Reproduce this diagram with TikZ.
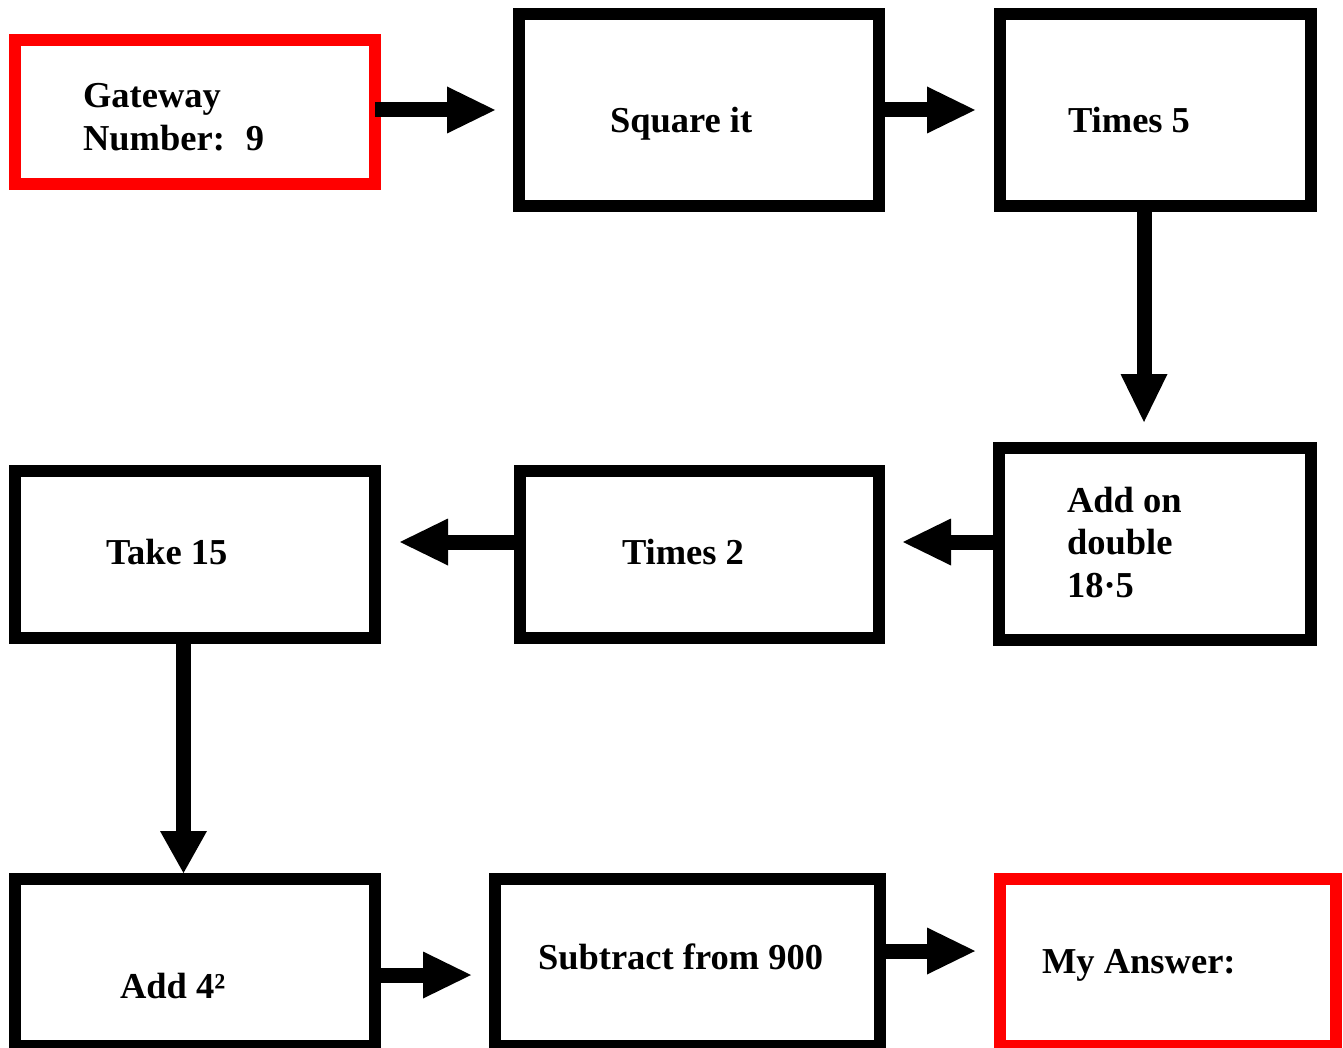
\documentclass[tikz,border=0pt]{standalone}
\usepackage{fontspec}
\setmainfont{Liberation Serif}
\usetikzlibrary{arrows.meta}
\definecolor{boxred}{RGB}{255,0,0}
\begin{document}
\begin{tikzpicture}[x=0.5pt,y=-0.5pt,
  box/.style={draw=black,line width=6pt,inner sep=0pt,outer sep=0pt,rectangle},
  redbox/.style={box,draw=boxred},
  lbl/.style={anchor=base west,inner sep=0pt,outer sep=0pt,font=\fontsize{18.25pt}{21.5pt}\selectfont\bfseries},
  arr/.style={line width=7.5pt,-{Triangle[length=24pt,width=23.5pt,line width=0pt]}},
  arrs/.style={line width=7.5pt,-{Triangle[length=21pt,width=23.5pt,line width=0pt]}}]
\useasboundingbox (0,0) rectangle (1343,1048);
\fill[white] (0,0) rectangle (1343,1048);
% boxes
\node[redbox,minimum width=180pt,minimum height=72pt] (gw) at (195,112) {};
\node[box,minimum width=180pt,minimum height=96pt] (sq) at (699,110) {};
\node[box,minimum width=155.5pt,minimum height=96pt] (t5) at (1155.5,110) {};
\node[box,minimum width=156pt,minimum height=96pt] (ad) at (1155,544) {};
\node[box,minimum width=179.5pt,minimum height=83.5pt] (t2) at (699.5,554.5) {};
\node[box,minimum width=180pt,minimum height=83.5pt] (tk) at (195,554.5) {};
\node[box,minimum width=180pt,minimum height=83.5pt] (a4) at (195,962.5) {};
\node[box,minimum width=192.5pt,minimum height=83.5pt] (sb) at (687.5,962.5) {};
\node[redbox,minimum width=168pt,minimum height=83.5pt] (ma) at (1168,962.5) {};
% texts
\node[lbl] (gwA) at (83,108) {Gateway};
\node[lbl] (gwB) at (83,151) {Number:\hspace{10.5pt}9};
\node[lbl] (sqT) at (610,133) {Square it};
\node[lbl] (t5T) at (1068,133) {Times 5};
\node[lbl] (adA) at (1067,512) {Add on};
\node[lbl] (adB) at (1067,554) {double};
\node[lbl] (adC) at (1067,597) {18·5};
\node[lbl] (t2T) at (622,564) {Times 2};
\node[lbl] (tkT) at (106,564) {Take 15};
\node[lbl] (a4T) at (120,998) {Add 4²};
\node[lbl] (sbT) at (538,969) {Subtract from 900};
\node[lbl] (maT) at (1042,973) {My Answer:};
% connectors
\draw[arr,shorten >=12pt] (gw.east |- sq.west) -- (sq.west);
\draw[arr,shorten >=12.5pt] (sq.east) -- (t5.west);
\draw[arr,shorten >=13pt] ([xshift=-5.75pt]t5.south) -- ([xshift=-5.5pt]ad.north);
\draw[arr,shorten >=12pt] ([yshift=1pt]ad.west) -- ([yshift=1pt]ad.west -| t2.east);
\draw[arr,shorten >=12.5pt] ([yshift=6.25pt]t2.west) -- ([yshift=6.25pt]tk.east);
\draw[arrs,shorten >=3pt] ([xshift=-5.75pt]tk.south) -- ([xshift=-5.75pt]a4.north);
\draw[arr,shorten >=12pt] ([yshift=-6.25pt]a4.east) -- ([yshift=-6.25pt]sb.west);
\draw[arr,shorten >=12.5pt] ([yshift=5.75pt]sb.east) -- ([yshift=5.75pt]ma.west);
\end{tikzpicture}
\end{document}
